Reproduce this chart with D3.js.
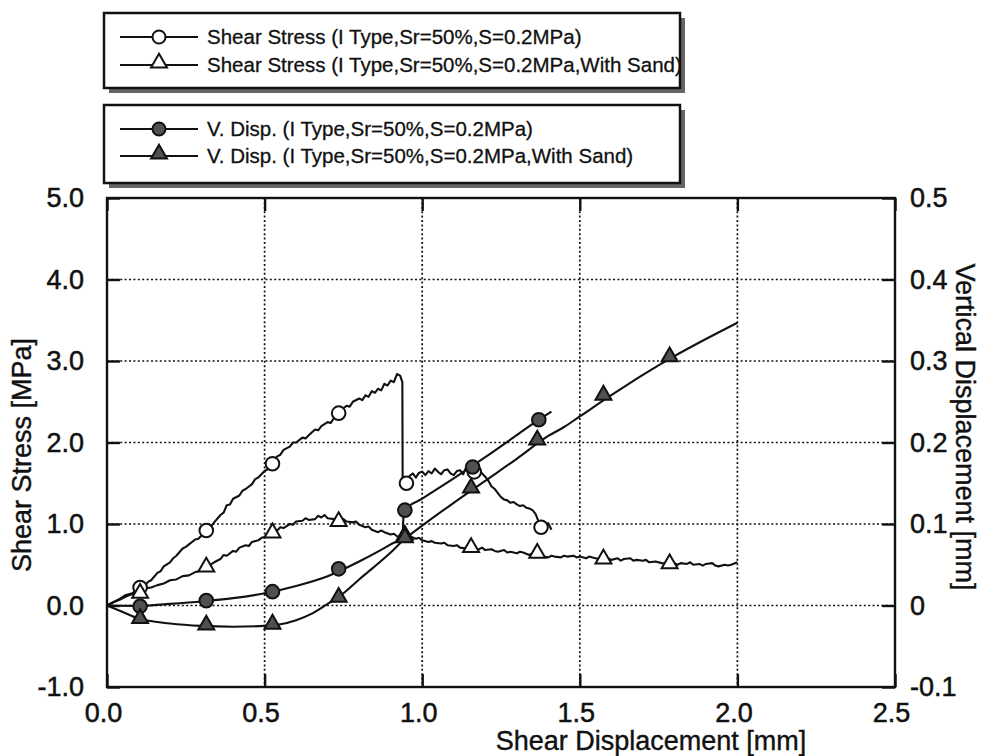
<!DOCTYPE html>
<html>
<head>
<meta charset="utf-8">
<script src="https://cdn.jsdelivr.net/npm/d3@7/dist/d3.min.js"></script>
<style>
  html, body { margin: 0; padding: 0; background: #fff; }
  svg { display: block; }
  text { font-family: "Liberation Sans", Arial, Helvetica, sans-serif; fill: #111; }
</style>
</head>
<body>
<svg id="chart" width="986" height="756"></svg>
<script>
// ---------- DATA ----------
const xTicks = [0, 0.5, 1.0, 1.5, 2.0, 2.5];
const xTickLabels = ["0.0", "0.5", "1.0", "1.5", "2.0", "2.5"];
const yLeftTicks = [-1, 0, 1, 2, 3, 4, 5];
const yLeftLabels = ["-1.0", "0.0", "1.0", "2.0", "3.0", "4.0", "5.0"];
const yRightTicks = [-0.1, 0, 0.1, 0.2, 0.3, 0.4, 0.5];
const yRightLabels = ["-0.1", "0", "0.1", "0.2", "0.3", "0.4", "0.5"];

const legendLabels = [
  "Shear Stress (I Type,Sr=50%,S=0.2MPa)",
  "Shear Stress (I Type,Sr=50%,S=0.2MPa,With Sand)",
  "V. Disp. (I Type,Sr=50%,S=0.2MPa)",
  "V. Disp. (I Type,Sr=50%,S=0.2MPa,With Sand)"
];

// Shear stress [MPa] vs shear displacement [mm], no sand
const shearPlain = [
  [0.00,0.00],[0.02,0.04],[0.04,0.08],[0.06,0.13],[0.08,0.15],[0.10,0.21],[0.12,0.24],[0.13,0.29],
  [0.14,0.31],[0.16,0.40],[0.17,0.42],[0.18,0.48],[0.20,0.53],[0.21,0.58],[0.22,0.61],[0.24,0.70],
  [0.25,0.72],[0.26,0.75],[0.28,0.81],[0.29,0.82],[0.30,0.86],[0.32,0.95],[0.33,0.97],[0.34,1.02],
  [0.36,1.11],[0.37,1.14],[0.38,1.23],[0.39,1.24],[0.40,1.31],[0.42,1.35],[0.43,1.41],[0.44,1.43],
  [0.46,1.49],[0.47,1.55],[0.48,1.57],[0.50,1.65],[0.51,1.67],[0.52,1.73],[0.54,1.83],[0.55,1.85],
  [0.56,1.91],[0.58,1.95],[0.59,2.00],[0.60,2.00],[0.62,2.06],[0.63,2.05],[0.64,2.09],[0.66,2.16],
  [0.67,2.15],[0.68,2.20],[0.70,2.25],[0.71,2.24],[0.72,2.30],[0.74,2.38],[0.75,2.42],[0.76,2.45],
  [0.77,2.44],[0.78,2.50],[0.80,2.54],[0.81,2.52],[0.82,2.58],[0.83,2.56],[0.84,2.63],[0.85,2.61],
  [0.86,2.66],[0.87,2.64],[0.88,2.72],[0.89,2.70],[0.90,2.76],[0.91,2.74],[0.92,2.84],[0.93,2.82],
  [0.937,2.74],[0.938,1.50],[0.95,1.52],[0.96,1.59],[0.97,1.62],[0.98,1.57],[0.99,1.63],[1.00,1.64],
  [1.01,1.60],[1.02,1.65],[1.03,1.62],[1.04,1.68],[1.05,1.64],[1.06,1.61],[1.07,1.66],[1.08,1.67],
  [1.09,1.62],[1.10,1.60],[1.11,1.65],[1.12,1.66],[1.13,1.61],[1.14,1.70],[1.15,1.66],[1.16,1.67],
  [1.17,1.71],[1.18,1.67],[1.19,1.62],[1.20,1.58],[1.21,1.53],[1.22,1.46],[1.23,1.43],[1.24,1.38],
  [1.25,1.33],[1.26,1.30],[1.27,1.29],[1.28,1.26],[1.29,1.27],[1.30,1.24],[1.31,1.22],[1.32,1.23],
  [1.33,1.20],[1.34,1.19],[1.35,1.17],[1.36,1.12],[1.37,1.02],[1.38,0.97],[1.39,0.98],[1.40,1.01],
  [1.41,0.93]
];
const shearPlainMarks = [[0.105,0.22],[0.315,0.92],[0.525,1.74],[0.735,2.36],[0.95,1.50],[1.165,1.64],[1.377,0.96]];

// Shear stress [MPa], with sand
const shearSand = [
  [0.00,0.00],[0.02,0.04],[0.04,0.07],[0.06,0.11],[0.08,0.14],[0.10,0.17],[0.12,0.21],[0.14,0.22],
  [0.16,0.25],[0.18,0.27],[0.20,0.31],[0.22,0.32],[0.24,0.36],[0.26,0.37],[0.28,0.41],[0.30,0.43],
  [0.32,0.48],[0.34,0.53],[0.36,0.57],[0.37,0.62],[0.38,0.61],[0.40,0.67],[0.41,0.66],[0.42,0.71],
  [0.44,0.74],[0.45,0.73],[0.46,0.78],[0.48,0.80],[0.49,0.83],[0.50,0.84],[0.52,0.88],[0.54,0.92],
  [0.55,0.96],[0.56,0.95],[0.58,1.00],[0.59,0.99],[0.60,1.03],[0.62,1.04],[0.63,1.07],[0.64,1.05],
  [0.66,1.06],[0.67,1.10],[0.68,1.08],[0.69,1.11],[0.70,1.07],[0.72,1.06],[0.73,1.03],[0.74,1.04],
  [0.75,1.06],[0.76,1.03],[0.78,1.02],[0.79,1.03],[0.80,0.99],[0.82,0.96],[0.83,0.97],[0.84,0.93],
  [0.86,0.90],[0.87,0.92],[0.88,0.90],[0.90,0.87],[0.91,0.88],[0.92,0.85],[0.94,0.84],[0.95,0.86],
  [0.96,0.85],[0.98,0.82],[0.99,0.83],[1.00,0.80],[1.02,0.78],[1.03,0.79],[1.04,0.77],[1.06,0.76],
  [1.07,0.77],[1.08,0.74],[1.10,0.73],[1.11,0.74],[1.12,0.71],[1.14,0.70],[1.15,0.71],[1.16,0.68],
  [1.18,0.69],[1.19,0.71],[1.20,0.68],[1.22,0.69],[1.23,0.67],[1.24,0.66],[1.26,0.68],[1.27,0.65],
  [1.28,0.66],[1.30,0.64],[1.31,0.66],[1.32,0.65],[1.34,0.62],[1.35,0.64],[1.36,0.63],[1.38,0.60],
  [1.40,0.59],[1.41,0.61],[1.42,0.60],[1.44,0.59],[1.45,0.61],[1.46,0.60],[1.48,0.61],[1.49,0.59],
  [1.50,0.60],[1.52,0.58],[1.53,0.60],[1.54,0.59],[1.56,0.57],[1.58,0.56],[1.59,0.58],[1.60,0.56],
  [1.62,0.58],[1.63,0.55],[1.64,0.57],[1.66,0.58],[1.67,0.55],[1.68,0.56],[1.70,0.55],[1.71,0.56],
  [1.72,0.53],[1.74,0.54],[1.76,0.52],[1.78,0.51],[1.80,0.52],[1.81,0.50],[1.82,0.52],[1.84,0.51],
  [1.85,0.53],[1.86,0.50],[1.88,0.51],[1.89,0.49],[1.90,0.51],[1.92,0.52],[1.93,0.49],[1.94,0.48],
  [1.96,0.50],[1.97,0.49],[1.98,0.50],[2.00,0.53]
];
const shearSandMarks = [[0.105,0.14],[0.315,0.46],[0.525,0.88],[0.735,1.02],[0.945,0.85],[1.155,0.70],[1.365,0.63],[1.575,0.56],[1.785,0.50]];

// Vertical displacement [mm], no sand
const vdispPlain = [
  [0.00,0.000],[0.10,-0.0005],[0.20,0.002],[0.30,0.005],[0.40,0.009],[0.50,0.015],[0.60,0.024],
  [0.70,0.036],[0.80,0.054],[0.90,0.075],[0.938,0.084],[0.940,0.105],[0.945,0.117],[1.00,0.131],
  [1.10,0.156],[1.20,0.182],[1.30,0.209],[1.37,0.228],[1.41,0.238]
];
const vdispPlainMarks = [[0.105,-0.001],[0.315,0.006],[0.525,0.017],[0.735,0.045],[0.945,0.117],[1.16,0.170],[1.37,0.228]];

// Vertical displacement [mm], with sand
const vdispSand = [
  [0.00,0.000],[0.05,-0.008],[0.10,-0.016],[0.20,-0.022],[0.30,-0.025],[0.40,-0.026],[0.50,-0.025],
  [0.55,-0.023],[0.60,-0.018],[0.65,-0.010],[0.70,0.002],[0.75,0.015],[0.80,0.032],[0.90,0.065],
  [0.94,0.080],[1.00,0.098],[1.10,0.126],[1.20,0.153],[1.30,0.180],[1.40,0.208],[1.45,0.219],
  [1.50,0.232],[1.60,0.258],[1.70,0.283],[1.80,0.306],[1.90,0.327],[2.00,0.347]
];
const vdispSandMarks = [[0.105,-0.017],[0.315,-0.025],[0.525,-0.024],[0.735,0.009],[0.945,0.082],[1.155,0.143],[1.365,0.202],[1.575,0.257],[1.785,0.304]];

// ---------- DRAW ----------
const svg = d3.select("#chart");
const L = 107, R = 895, T = 198, B = 687;
const x = d3.scaleLinear().domain([0, 2.5]).range([L, R]);
const yL = d3.scaleLinear().domain([-1, 5]).range([B, T]);
const yR = d3.scaleLinear().domain([-0.1, 0.5]).range([B, T]);

// grid
const grid = svg.append("g").attr("stroke", "#111").attr("stroke-width", 1.7).attr("stroke-dasharray", "2,2.4");
grid.selectAll("line.v").data(xTicks.filter(d => d > 0 && d < 2.5)).join("line")
  .attr("x1", d => x(d)).attr("x2", d => x(d)).attr("y1", T).attr("y2", B);
grid.selectAll("line.h").data(yLeftTicks.filter(d => d > -1 && d < 5)).join("line")
  .attr("x1", L).attr("x2", R).attr("y1", d => yL(d)).attr("y2", d => yL(d));

// axes
function styleAxis(g) {
  g.select(".domain").remove();
  g.selectAll(".tick line").attr("stroke", "#111").attr("stroke-width", 2.4);
  g.selectAll(".tick text").attr("font-size", 27).attr("fill", "#111")
    .attr("stroke", "#111").attr("stroke-width", 0.5)
    .attr("font-family", "'Liberation Sans', Arial, sans-serif");
}
svg.append("g").attr("transform", `translate(0,${B})`)
  .call(d3.axisBottom(x).tickValues(xTicks).tickFormat((d, i) => xTickLabels[i]).tickSize(-13).tickPadding(16))
  .call(styleAxis)
  .call(g => g.selectAll(".tick text").attr("dx", -4));
svg.append("g").attr("transform", `translate(0,${T})`)
  .call(d3.axisTop(x).tickValues(xTicks).tickFormat("").tickSize(-13))
  .call(styleAxis);
svg.append("g").attr("transform", `translate(${L},0)`)
  .call(d3.axisLeft(yL).tickValues(yLeftTicks).tickFormat((d, i) => yLeftLabels[i]).tickSize(-13).tickPadding(23))
  .call(styleAxis);
svg.append("g").attr("transform", `translate(${R},0)`)
  .call(d3.axisRight(yR).tickValues(yRightTicks).tickFormat((d, i) => yRightLabels[i]).tickSize(-13).tickPadding(15))
  .call(styleAxis);

// frame
svg.append("rect").attr("x", L).attr("y", T).attr("width", R - L).attr("height", B - T)
  .attr("fill", "none").attr("stroke", "#111").attr("stroke-width", 2.4);

// axis titles
const titleStyle = t => t.attr("font-size", 27).attr("stroke", "#111").attr("stroke-width", 0.4).attr("text-anchor", "middle");
svg.append("text").attr("x", 651).attr("y", 750).call(titleStyle).text("Shear Displacement [mm]");
svg.append("text").attr("transform", "translate(31,455) rotate(-90)").call(titleStyle).text("Shear Stress [MPa]");
svg.append("text").attr("transform", "translate(956,427) rotate(90)").call(titleStyle).text("Vertical Displacement [mm]");

// lines
const lineL = d3.line().x(d => x(d[0])).y(d => yL(d[1]));
const lineR = d3.line().x(d => x(d[0])).y(d => yR(d[1])).curve(d3.curveMonotoneX);
const lines = svg.append("g").attr("fill", "none").attr("stroke", "#111").attr("stroke-width", 2.1)
  .attr("stroke-linejoin", "round");
lines.append("path").attr("d", lineL(shearPlain));
lines.append("path").attr("d", lineL(shearSand));
lines.append("path").attr("d", lineR(vdispPlain));
lines.append("path").attr("d", lineR(vdispSand));

// markers
const triSym = d3.symbol().type(d3.symbolTriangle).size(110);
function circles(data, yScale, filled) {
  svg.append("g").selectAll("circle").data(data).join("circle")
    .attr("cx", d => x(d[0])).attr("cy", d => yScale(d[1])).attr("r", 6.8)
    .attr("fill", filled ? "#505050" : "#fff").attr("stroke", "#111").attr("stroke-width", 2);
}
function triangles(data, yScale, filled) {
  svg.append("g").selectAll("path").data(data).join("path")
    .attr("d", triSym).attr("transform", d => `translate(${x(d[0])},${yScale(d[1]) - 1})`)
    .attr("fill", filled ? "#505050" : "#fff").attr("stroke", "#111").attr("stroke-width", 2);
}
circles(shearPlainMarks, yL, false);
triangles(shearSandMarks, yL, false);
circles(vdispPlainMarks, yR, true);
triangles(vdispSandMarks, yR, true);

// legends
function legendBox(x0, y0, w, h, rows) {
  const g = svg.append("g");
  g.append("rect").attr("x", x0 + 5).attr("y", y0 + 5).attr("width", w).attr("height", h).attr("fill", "#666");
  g.append("rect").attr("x", x0).attr("y", y0).attr("width", w).attr("height", h)
    .attr("fill", "#fff").attr("stroke", "#111").attr("stroke-width", 2.5);
  rows.forEach(r => {
    g.append("line").attr("x1", 120).attr("x2", 198).attr("y1", r.y).attr("y2", r.y)
      .attr("stroke", "#111").attr("stroke-width", 2);
    if (r.shape === "circle") {
      g.append("circle").attr("cx", 159).attr("cy", r.y).attr("r", 6.5)
        .attr("fill", r.filled ? "#505050" : "#fff").attr("stroke", "#111").attr("stroke-width", 2);
    } else {
      g.append("path").attr("d", triSym).attr("transform", `translate(159,${r.y - 2})`)
        .attr("fill", r.filled ? "#505050" : "#fff").attr("stroke", "#111").attr("stroke-width", 2);
    }
    g.append("text").attr("x", 207).attr("y", r.y + 7).attr("font-size", 20.5)
      .attr("stroke", "#111").attr("stroke-width", 0.3).text(r.label);
  });
}
legendBox(104, 13, 576, 75, [
  { y: 37, shape: "circle", filled: false, label: legendLabels[0] },
  { y: 65, shape: "triangle", filled: false, label: legendLabels[1] }
]);
legendBox(104, 105, 576, 78, [
  { y: 129, shape: "circle", filled: true, label: legendLabels[2] },
  { y: 156, shape: "triangle", filled: true, label: legendLabels[3] }
]);
</script>
</body>
</html>
